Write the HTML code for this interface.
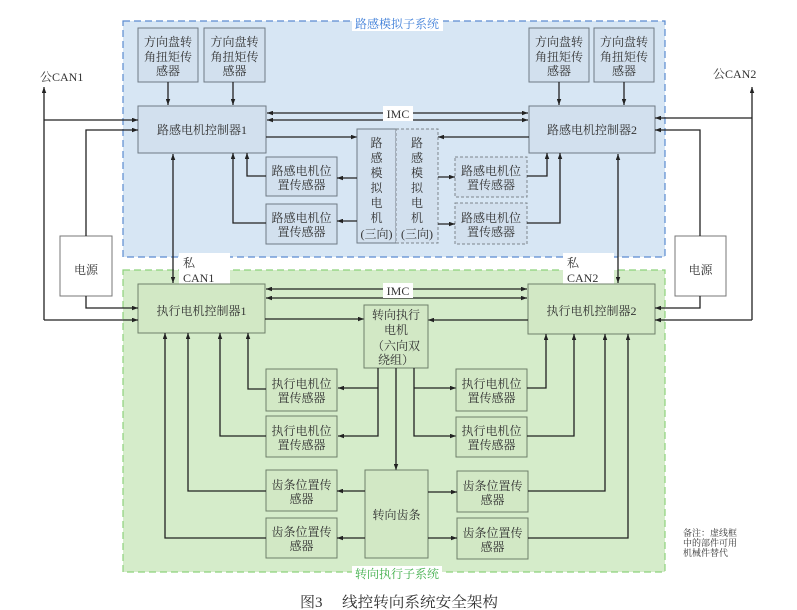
<!DOCTYPE html>
<html><head><meta charset="utf-8"><style>
html,body{margin:0;padding:0;background:#fff;}
svg{display:block;}
text{font-family:"Liberation Serif","Noto Serif CJK SC",serif;font-size:12px;fill:#333;}
.c{text-anchor:middle;}
.ln{stroke:#222;stroke-width:1.3;fill:none;}
.bb{fill:#d2e0ee;stroke:#6f7a85;stroke-width:1;}
.bd{fill:#d2e0ee;stroke:#7d858c;stroke-width:1;stroke-dasharray:3,2;}
.gb{fill:#d2e8c5;stroke:#6f7f6a;stroke-width:1;}
</style></head><body>
<svg width="797" height="610" viewBox="0 0 797 610" xmlns="http://www.w3.org/2000/svg">
<defs>
<marker id="a" viewBox="0 0 8 6" refX="8" refY="3" markerWidth="6" markerHeight="4.5" orient="auto-start-reverse" markerUnits="userSpaceOnUse"><path d="M0,0 L8,3 L0,6 z" fill="#222"/></marker>
</defs>
<rect width="797" height="610" fill="#fff"/>
<!-- regions -->
<rect x="123" y="21" width="542" height="236" fill="#d7e6f4" stroke="#5b8bd0" stroke-width="1.2" stroke-dasharray="7,4"/>
<rect x="123" y="270" width="542" height="302" fill="#d5ecca" stroke="#8ed27c" stroke-width="1.2" stroke-dasharray="7,4"/>
<rect x="352" y="16" width="91" height="15" fill="#fff"/>
<text x="355" y="28" style="fill:#3f7fd9">路感模拟子系统</text>
<rect x="352" y="566" width="90" height="16" fill="#fff"/>
<text x="355" y="578" style="fill:#3fae49">转向执行子系统</text>

<!-- top sensors -->
<rect class="bb" x="138" y="28" width="60" height="54"/>
<text class="c" x="168" y="46">方向盘转</text><text class="c" x="168" y="61">角扭矩传</text><text class="c" x="168" y="75">感器</text>
<rect class="bb" x="204" y="28" width="61" height="54"/>
<text class="c" x="234.5" y="46">方向盘转</text><text class="c" x="234.5" y="61">角扭矩传</text><text class="c" x="234.5" y="75">感器</text>
<rect class="bb" x="529" y="28" width="60" height="54"/>
<text class="c" x="559" y="46">方向盘转</text><text class="c" x="559" y="61">角扭矩传</text><text class="c" x="559" y="75">感器</text>
<rect class="bb" x="594" y="28" width="60" height="54"/>
<text class="c" x="624" y="46">方向盘转</text><text class="c" x="624" y="61">角扭矩传</text><text class="c" x="624" y="75">感器</text>
<path class="ln" d="M168 82V105" marker-end="url(#a)"/>
<path class="ln" d="M233 82V105" marker-end="url(#a)"/>
<path class="ln" d="M559 82V105" marker-end="url(#a)"/>
<path class="ln" d="M624 82V105" marker-end="url(#a)"/>

<!-- road-feel controllers -->
<rect class="bb" x="138" y="106" width="128" height="47"/>
<text class="c" x="202" y="134">路感电机控制器1</text>
<rect class="bb" x="529" y="106" width="126" height="47"/>
<text class="c" x="592" y="134">路感电机控制器2</text>

<path class="ln" d="M267 113H528" marker-start="url(#a)" marker-end="url(#a)"/>
<path class="ln" d="M267 120H528" marker-start="url(#a)" marker-end="url(#a)"/>
<rect x="383" y="106" width="30" height="15" fill="#fff"/>
<text class="c" x="398" y="118">IMC</text>

<path class="ln" d="M266 137H357" marker-end="url(#a)"/>
<path class="ln" d="M529 137H438" marker-end="url(#a)"/>

<!-- road feel motors -->
<rect class="bb" x="357" y="129" width="39" height="114"/>
<rect class="bd" x="396" y="129" width="42" height="114"/>
<text class="c" x="376.5" y="147">路</text><text class="c" x="376.5" y="162">感</text><text class="c" x="376.5" y="177">模</text><text class="c" x="376.5" y="192">拟</text><text class="c" x="376.5" y="207">电</text><text class="c" x="376.5" y="222">机</text><text class="c" x="376.5" y="238">(三向)</text>
<text class="c" x="417" y="147">路</text><text class="c" x="417" y="162">感</text><text class="c" x="417" y="177">模</text><text class="c" x="417" y="192">拟</text><text class="c" x="417" y="207">电</text><text class="c" x="417" y="222">机</text><text class="c" x="417" y="238">(三向)</text>

<!-- road feel sensors -->
<rect class="bb" x="266" y="157" width="71" height="39"/>
<text class="c" x="301.5" y="175">路感电机位</text><text class="c" x="301.5" y="189">置传感器</text>
<rect class="bb" x="266" y="204" width="71" height="40"/>
<text class="c" x="301.5" y="222">路感电机位</text><text class="c" x="301.5" y="236">置传感器</text>
<rect class="bd" x="455" y="157" width="72" height="40"/>
<text class="c" x="491" y="175">路感电机位</text><text class="c" x="491" y="189">置传感器</text>
<rect class="bd" x="455" y="203" width="72" height="41"/>
<text class="c" x="491" y="222">路感电机位</text><text class="c" x="491" y="236">置传感器</text>

<path class="ln" d="M357 178H337" marker-end="url(#a)"/>
<path class="ln" d="M357 221H337" marker-end="url(#a)"/>
<path class="ln" d="M438 177H455" marker-end="url(#a)"/>
<path class="ln" d="M438 224H455" marker-end="url(#a)"/>
<path class="ln" d="M266 176H247V153" marker-end="url(#a)"/>
<path class="ln" d="M266 223H233V153" marker-end="url(#a)"/>
<path class="ln" d="M527 176H547V153" marker-end="url(#a)"/>
<path class="ln" d="M527 223H560V153" marker-end="url(#a)"/>

<!-- private CAN -->
<path class="ln" d="M173 154V283" marker-start="url(#a)" marker-end="url(#a)"/>
<path class="ln" d="M618 154V283" marker-start="url(#a)" marker-end="url(#a)"/>
<rect x="179" y="253" width="51" height="34" fill="#fff"/>
<text x="183" y="267">私</text><text x="183" y="282">CAN1</text>
<rect x="563" y="253" width="51" height="34" fill="#fff"/>
<text x="567" y="267">私</text><text x="567" y="282">CAN2</text>

<!-- exec controllers -->
<rect class="gb" x="138" y="284" width="127" height="49"/>
<text class="c" x="201.5" y="315">执行电机控制器1</text>
<rect class="gb" x="528" y="284" width="127" height="50"/>
<text class="c" x="591.5" y="315">执行电机控制器2</text>

<path class="ln" d="M266 289H527" marker-start="url(#a)" marker-end="url(#a)"/>
<path class="ln" d="M266 298H527" marker-start="url(#a)" marker-end="url(#a)"/>
<rect x="383" y="283" width="30" height="15" fill="#fff"/>
<text class="c" x="398" y="295">IMC</text>

<path class="ln" d="M265 319H364" marker-end="url(#a)"/>
<path class="ln" d="M528 320H428" marker-end="url(#a)"/>

<!-- steering motor -->
<rect class="gb" x="364" y="305" width="64" height="63"/>
<text class="c" x="396" y="319">转向执行</text>
<text class="c" x="396" y="334">电机</text>
<text x="372" y="350">（六向双</text>
<text x="378" y="364">绕组）</text>

<path class="ln" d="M378 368V436H338" marker-end="url(#a)"/>
<path class="ln" d="M378 388H338" marker-end="url(#a)"/>
<path class="ln" d="M414 368V436H456" marker-end="url(#a)"/>
<path class="ln" d="M414 388H456" marker-end="url(#a)"/>
<path class="ln" d="M396 368V470" marker-end="url(#a)"/>

<!-- exec sensors -->
<rect class="gb" x="266" y="369" width="71" height="42"/>
<text class="c" x="301.5" y="388">执行电机位</text><text class="c" x="301.5" y="402">置传感器</text>
<rect class="gb" x="266" y="416" width="71" height="41"/>
<text class="c" x="301.5" y="435">执行电机位</text><text class="c" x="301.5" y="449">置传感器</text>
<rect class="gb" x="456" y="369" width="71" height="42"/>
<text class="c" x="491.5" y="388">执行电机位</text><text class="c" x="491.5" y="402">置传感器</text>
<rect class="gb" x="456" y="417" width="71" height="40"/>
<text class="c" x="491.5" y="435">执行电机位</text><text class="c" x="491.5" y="449">置传感器</text>

<!-- rack -->
<rect class="gb" x="365" y="470" width="63" height="88"/>
<text class="c" x="396.5" y="519">转向齿条</text>
<rect class="gb" x="266" y="470" width="71" height="41"/>
<text class="c" x="301.5" y="489">齿条位置传</text><text class="c" x="301.5" y="503">感器</text>
<rect class="gb" x="266" y="518" width="71" height="40"/>
<text class="c" x="301.5" y="536">齿条位置传</text><text class="c" x="301.5" y="550">感器</text>
<rect class="gb" x="457" y="471" width="71" height="41"/>
<text class="c" x="492.5" y="490">齿条位置传</text><text class="c" x="492.5" y="504">感器</text>
<rect class="gb" x="457" y="518" width="71" height="41"/>
<text class="c" x="492.5" y="537">齿条位置传</text><text class="c" x="492.5" y="551">感器</text>

<path class="ln" d="M365 491H337" marker-end="url(#a)"/>
<path class="ln" d="M365 538H337" marker-end="url(#a)"/>
<path class="ln" d="M428 492H457" marker-end="url(#a)"/>
<path class="ln" d="M428 538H457" marker-end="url(#a)"/>

<!-- sensor feedback to exec controllers -->
<path class="ln" d="M266 389H248V333" marker-end="url(#a)"/>
<path class="ln" d="M266 436H220V333" marker-end="url(#a)"/>
<path class="ln" d="M266 491H188V333" marker-end="url(#a)"/>
<path class="ln" d="M266 538H165V333" marker-end="url(#a)"/>
<path class="ln" d="M527 388H546V334" marker-end="url(#a)"/>
<path class="ln" d="M527 436H574V334" marker-end="url(#a)"/>
<path class="ln" d="M528 491H605V334" marker-end="url(#a)"/>
<path class="ln" d="M528 538H628V334" marker-end="url(#a)"/>

<!-- power supplies -->
<rect x="60" y="236" width="52" height="60" fill="#fff" stroke="#777" stroke-width="1"/>
<text class="c" x="86" y="274">电源</text>
<rect x="675" y="236" width="51" height="60" fill="#fff" stroke="#777" stroke-width="1"/>
<text class="c" x="700.5" y="274">电源</text>
<path class="ln" d="M86 236V130H138" marker-end="url(#a)"/>
<path class="ln" d="M86 296V308H138" marker-end="url(#a)"/>
<path class="ln" d="M700 236V130H655" marker-end="url(#a)"/>
<path class="ln" d="M700 296V308H655" marker-end="url(#a)"/>

<!-- public CAN -->
<path class="ln" d="M44 320V87" marker-end="url(#a)"/>
<path class="ln" d="M44 120H138" marker-end="url(#a)"/>
<path class="ln" d="M44 320H138" marker-end="url(#a)"/>
<text x="40" y="81">公CAN1</text>
<path class="ln" d="M752 320V87" marker-end="url(#a)"/>
<path class="ln" d="M752 118H655" marker-end="url(#a)"/>
<path class="ln" d="M752 320H655" marker-end="url(#a)"/>
<text x="713" y="78">公CAN2</text>

<!-- note -->
<text x="683" y="536" style="font-size:9px">备注：虚线框</text>
<text x="683" y="546" style="font-size:9px">中的部件可用</text>
<text x="683" y="556" style="font-size:9px">机械件替代</text>

<!-- caption -->
<text x="300" y="607" style="font-size:15px">图3</text>
<text x="342" y="607" style="font-size:15px" textLength="156" lengthAdjust="spacingAndGlyphs">线控转向系统安全架构</text>
</svg>
</body></html>
